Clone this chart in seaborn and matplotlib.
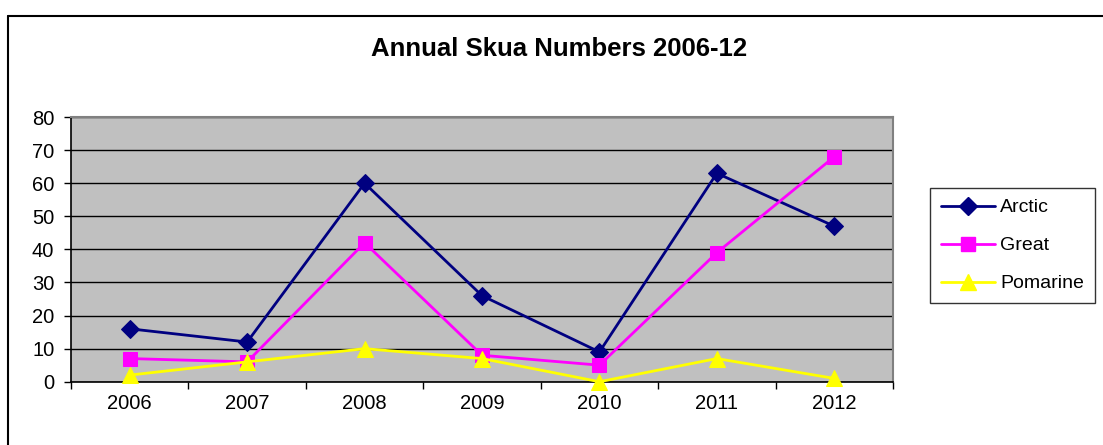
import numpy as np
import pandas as pd
import matplotlib
matplotlib.use('Agg')
import seaborn as sns
import matplotlib.pyplot as plt
from matplotlib.lines import Line2D

# données
annees = ['2006', '2007', '2008', '2009', '2010', '2011', '2012']
arctic = [16, 12, 60, 26, 9, 63, 47]
great = [7, 6, 42, 8, 5, 39, 68]
pomarine = [2, 6, 10, 7, 0, 7, 1]

series = ['Arctic', 'Great', 'Pomarine']
couleurs = ['#000080', '#FF00FF', '#FFFF00']
marqueurs = ['D', 's', '^']
tailles = [9.5, 10.5, 11.5]

df = pd.DataFrame({'pos': range(len(annees)), 'Arctic': arctic, 'Great': great, 'Pomarine': pomarine})

sns.set_style('white')
plt.rcParams['font.family'] = ['Liberation Sans', 'DejaVu Sans']
plt.rcParams['text.color'] = 'black'
plt.rcParams['xtick.color'] = 'black'
plt.rcParams['ytick.color'] = 'black'

fig = plt.figure(figsize=(11.03, 4.45), dpi=100)
ax = fig.add_axes([0.0644, 0.1422, 0.7452, 0.5948])
ax.set_facecolor('#C0C0C0')

# courbes
for nom, c, m, t in zip(series, couleurs, marqueurs, tailles):
    sns.lineplot(data=df, x='pos', y=nom, ax=ax, color=c, marker=m, markersize=t,
                 markeredgecolor=c, linewidth=2, clip_on=False, zorder=3)

ax.set_xlim(-0.5, len(annees) - 0.5)
ax.set_ylim(0, 80)
ax.set_yticks(range(0, 81, 10))
ax.yaxis.grid(True, color='black', linewidth=1)
ax.set_axisbelow(True)

# ticks aux frontières, labels au centre
ax.set_xticks(np.arange(-0.5, len(annees), 1))
ax.set_xticklabels([])
ax.set_xticks(range(len(annees)), minor=True)
ax.set_xticklabels(annees, minor=True)
ax.tick_params(axis='x', which='major', length=5, width=1, direction='out', bottom=True)
ax.tick_params(axis='x', which='minor', length=0, labelsize=14.5, pad=9)
ax.tick_params(axis='y', length=5, width=1, direction='out', left=True, labelsize=14.5, pad=7)
ax.set_xlabel('')
ax.set_ylabel('')

for s in ['left', 'bottom']:
    ax.spines[s].set_color('black')
    ax.spines[s].set_linewidth(1.2)
for s in ['top', 'right']:
    ax.spines[s].set_color('#808080')
    ax.spines[s].set_linewidth(1.5)

# titre
fig.text(0.507, 0.89, 'Annual Skua Numbers 2006-12', ha='center', va='center',
         fontsize=18.5, fontweight='bold')

# légende
handles = [Line2D([0], [0], color=c, marker=m, markersize=t, linewidth=2)
           for c, m, t in zip(couleurs, marqueurs, tailles)]
leg = fig.legend(handles, series, loc='upper left', bbox_to_anchor=(0.8432, 0.5775),
                 fontsize=14, frameon=True, fancybox=False, handlelength=2.8,
                 handletextpad=0.25, borderaxespad=0, labelspacing=1.05, borderpad=0.55)
leg.get_frame().set_edgecolor('black')
leg.get_frame().set_linewidth(1)

# cadre extérieur
fig.add_artist(Line2D([8 / 1103, 1], [1 - 16 / 445, 1 - 16 / 445], color='black', linewidth=1.5))
fig.add_artist(Line2D([8 / 1103, 8 / 1103], [0, 1 - 16 / 445], color='black', linewidth=1.5))

plt.savefig('out.png', dpi=100)
plt.close()
